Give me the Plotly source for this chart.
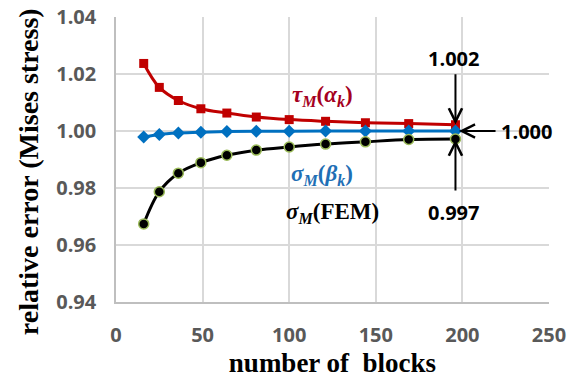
import plotly.graph_objects as go

blocks = [16, 25, 36, 49, 64, 81, 100, 121, 144, 169, 196]
tau_alpha = [1.0237, 1.0153, 1.0107, 1.0078, 1.0063, 1.0049, 1.0040, 1.0034, 1.0029, 1.0026, 1.0022]
sigma_beta = [0.9979, 0.9988, 0.9993, 0.9996, 0.9998, 0.9999, 0.9999, 1.0000, 1.0000, 1.0000, 1.0000]
sigma_fem = [0.9674, 0.9787, 0.9852, 0.9889, 0.9915, 0.9933, 0.9944, 0.9954, 0.9962, 0.9970, 0.9972]

x_ticks = [0, 50, 100, 150, 200, 250]
y_ticks = [0.94, 0.96, 0.98, 1.00, 1.02, 1.04]

fig = go.Figure()
fig.add_trace(go.Scatter(x=blocks, y=tau_alpha, mode="lines+markers", line=dict(color="#C00000", width=3, shape="spline"),
                         marker=dict(symbol="square", size=9, color="#C00000")))
fig.add_trace(go.Scatter(x=blocks, y=sigma_beta, mode="lines+markers", line=dict(color="#0070C0", width=3, shape="spline"),
                         marker=dict(symbol="diamond", size=10, color="#0070C0")))
fig.add_trace(go.Scatter(x=blocks, y=sigma_fem, mode="lines+markers", line=dict(color="#000000", width=3, shape="spline"),
                         marker=dict(symbol="circle", size=10, color="#000000", line=dict(color="#9BBB59", width=1.5))))

math_font = "Liberation Serif"
lab_font = dict(family="Open Sans", size=20, color="#000000")
arrow = dict(axref="x", ayref="y", text="", showarrow=True, arrowhead=5, arrowwidth=2,
             arrowsize=1.3, arrowcolor="#000000")
ann = [
    dict(x=119, y=1.0124, text="<b><i>τ</i><sub><i>M</i></sub>(<i>α</i><sub><i>k</i></sub>)</b>",
         font=dict(family=math_font, size=23, color="#A50021"), showarrow=False),
    dict(x=119, y=0.9846, text="<b><i>σ</i><sub><i>M</i></sub>(<i>β</i><sub><i>k</i></sub>)</b>",
         font=dict(family=math_font, size=23, color="#1F6FB5"), showarrow=False),
    dict(x=125, y=0.9713, text="<b><i>σ</i><sub><i>M</i></sub>(FEM)</b>",
         font=dict(family=math_font, size=23, color="#000000"), showarrow=False),
    dict(x=195, y=1.0253, text="<b>1.002</b>", font=lab_font, showarrow=False),
    dict(x=237, y=1.0, text="<b>1.000</b>", font=lab_font, showarrow=False),
    dict(x=195, y=0.9713, text="<b>0.997</b>", font=lab_font, showarrow=False),
    dict(x=196, y=1.0023, ax=196, ay=1.0204, **arrow),
    dict(x=198, y=1.0, ax=220, ay=1.0, **arrow),
    dict(x=196, y=0.9970, ax=196, ay=0.9786, **arrow),
    dict(xref="paper", yref="paper", x=-0.203, y=0.456, xanchor="center", yanchor="middle",
         textangle=-90, showarrow=False,
         text="<b>relative error (Mises stress)</b>",
         font=dict(family="Liberation Serif", size=28, color="#000000")),
]

tick_font = dict(family="Open Sans", size=20, color="#595959")
fig.update_layout(
    width=573, height=378,
    margin=dict(l=116, r=24, t=17, b=76),
    paper_bgcolor="white", plot_bgcolor="white",
    showlegend=False,
    annotations=ann,
    xaxis=dict(range=[0, 250], tickvals=x_ticks, ticktext=[f"<b>{v}</b>" for v in x_ticks],
               showgrid=True, gridcolor="#D9D9D9", gridwidth=1.5, zeroline=False,
               showline=True, linecolor="#BFBFBF", linewidth=1.5, mirror=False, automargin=False,
               tickfont=tick_font, ticks="", ticklabelstandoff=14,
               title=dict(text="<b>number of  blocks</b>", font=dict(family="Liberation Serif", size=27, color="#000000"), standoff=0)),
    yaxis=dict(range=[0.94, 1.04], tickvals=y_ticks, ticktext=[f"<b>{v:.2f}</b>" for v in y_ticks],
               showgrid=True, gridcolor="#D9D9D9", gridwidth=1.5, zeroline=False,
               showline=True, linecolor="#BFBFBF", linewidth=1.5, automargin=False,
               tickfont=tick_font, ticks="", ticklabelstandoff=14),
)
fig.write_html("out.html")
